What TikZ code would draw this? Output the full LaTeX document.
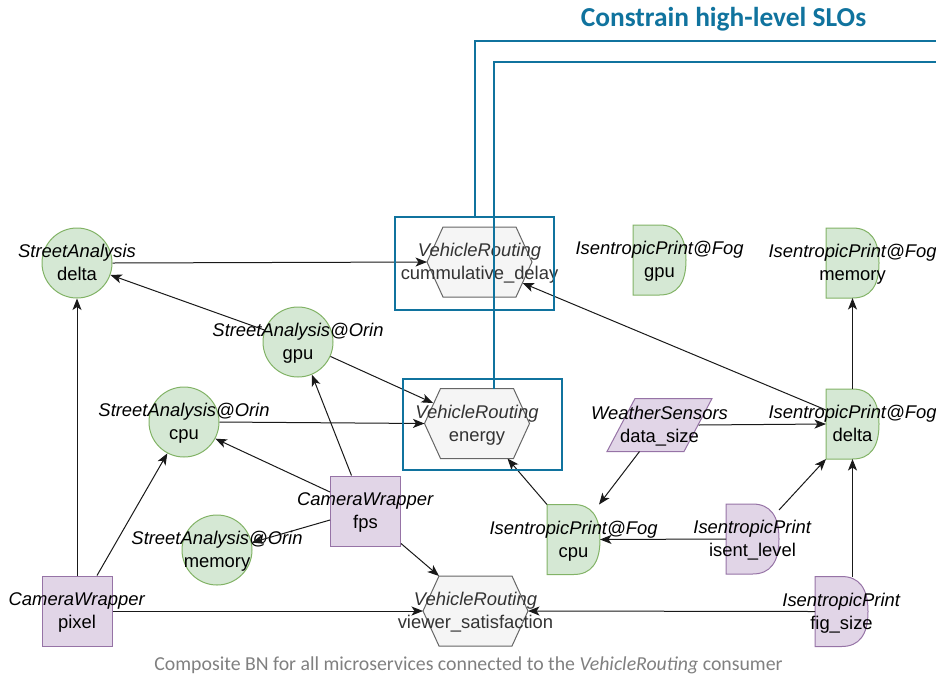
\documentclass[tikz,border=0pt]{standalone}
\usepackage{fontspec}
\setmainfont{Liberation Sans}
\newfontfamily\carlito{Carlito}
\usetikzlibrary{arrows.meta}

\definecolor{gfill}{HTML}{D5E8D4}
\definecolor{gline}{HTML}{82B366}
\definecolor{pfill}{HTML}{E1D5E7}
\definecolor{pline}{HTML}{9673A6}
\definecolor{hfill}{HTML}{F5F5F5}
\definecolor{hline}{HTML}{666666}
\definecolor{htext}{HTML}{333333}
\definecolor{slo}{HTML}{10739E}
\definecolor{capgray}{HTML}{808080}

% fixed line box so every two-line label sits the same way
\newcommand\lstrut{\rule[-4pt]{0pt}{20.4pt}}
\newcommand\twoline[2]{\textit{#1}\lstrut\\#2\lstrut}

\tikzset{
  gcirc/.style={circle, draw=gline, fill=gfill, line width=1pt, minimum size=70pt, inner sep=0pt},
  psq/.style={rectangle, draw=pline, fill=pfill, line width=1pt, minimum size=70pt, inner sep=0pt},
  dbox/.style={rectangle, minimum width=53pt, minimum height=70pt, inner sep=0pt, outer sep=0pt},
  hbox/.style={rectangle, minimum width=105pt, minimum height=70pt, inner sep=0pt, outer sep=0pt},
  pbox/.style={rectangle, minimum width=105pt, minimum height=53pt, inner sep=0pt, outer sep=0pt},
  lbl/.style={align=center, inner sep=0pt, font=\fontsize{18.4pt}{23pt}\selectfont},
  hlbl/.style={lbl, text=htext},
  arr/.style={draw=black!90, line width=1pt, -{Stealth[length=11.5pt,width=9pt,inset=3pt]}},
  slobox/.style={draw=slo, line width=2pt, rectangle, inner sep=0pt},
  sloline/.style={draw=slo, line width=2pt},
}

% half-rounded "delay" shape: name, position, fill, stroke
\newcommand\dshape[4]{%
  \node[dbox] (#1) at (#2) {};
  \filldraw[fill=#3, draw=#4, line width=1pt] (#1.north west) -- ([xshift=-26.5pt]#1.north east)
    .. controls ([xshift=-8.83pt]#1.north east) and ([yshift=-11.67pt]#1.north east) .. (#1.east)
    .. controls ([yshift=11.67pt]#1.south east) and ([xshift=-8.83pt]#1.south east) .. ([xshift=-26.5pt]#1.south east)
    -- (#1.south west) -- cycle;}

% stretched hexagon: name, position
\newcommand\hexshape[2]{%
  \node[hbox] (#1) at (#2) {};
  \filldraw[fill=hfill, draw=hline, line width=1pt] (#1.west) -- ([xshift=16pt]#1.north west)
    -- ([xshift=-16pt]#1.north east) -- (#1.east) -- ([xshift=-16pt]#1.south east)
    -- ([xshift=16pt]#1.south west) -- cycle;}

\begin{document}
\begin{tikzpicture}[x=1pt, y=-1pt]
\useasboundingbox (0,0) rectangle (936,678);

% consumer variables
\hexshape{cd}{479.5,262}
\hexshape{en}{477,423.5}
\hexshape{vs}{475.5,611}
\node[hlbl] (cdl) at (cd) {\twoline{VehicleRouting}{cummulative\_delay}};
\node[hlbl] (enl) at (en) {\twoline{VehicleRouting}{energy}};
\node[hlbl] (vsl) at (vs) {\twoline{VehicleRouting}{viewer\_satisfaction}};

% StreetAnalysis
\node[gcirc] (sad)  at (77,263)  {};
\node[gcirc] (sgpu) at (298,342) {};
\node[gcirc] (scpu) at (184,422) {};
\node[gcirc] (smem) at (217,550) {};
\node[lbl] (sadl)  at (sad)  {\twoline{StreetAnalysis}{delta}};
\node[lbl] (sgpul) at (sgpu) {\twoline{StreetAnalysis@Orin}{gpu}};
\node[lbl] (scpul) at (scpu) {\twoline{StreetAnalysis@Orin}{cpu}};
\node[lbl] (smeml) at (smem) {\twoline{StreetAnalysis@Orin}{memory}};

% CameraWrapper
\node[psq] (fps) at (365.5,511) {};
\node[psq] (pix) at (77,611) {};
\node[lbl] (fpsl) at (fps) {\twoline{CameraWrapper}{fps}};
\node[lbl] (pixl) at (pix) {\twoline{CameraWrapper}{pixel}};

% IsentropicPrint
\dshape{fgpu}{659.5,260}{gfill}{gline}
\dshape{fmem}{852.5,263}{gfill}{gline}
\dshape{fdel}{852.5,424}{gfill}{gline}
\dshape{fcpu}{573.5,539.5}{gfill}{gline}
\dshape{isl}{752.5,539}{pfill}{pline}
\dshape{fig}{841.5,611.5}{pfill}{pline}
\node[lbl] (fgpul) at (fgpu) {\twoline{IsentropicPrint@Fog}{gpu}};
\node[lbl] (fmeml) at (fmem) {\twoline{IsentropicPrint@Fog}{memory}};
\node[lbl] (fdell) at (fdel) {\twoline{IsentropicPrint@Fog}{delta}};
\node[lbl] (fcpul) at (fcpu) {\twoline{IsentropicPrint@Fog}{cpu}};
\node[lbl] (isll)  at (isl)  {\twoline{IsentropicPrint}{isent\_level}};
\node[lbl] (figl)  at (fig)  {\twoline{IsentropicPrint}{fig\_size}};

% WeatherSensors
\node[pbox] (ws) at (659.5,425) {};
\filldraw[fill=pfill, draw=pline, line width=1pt] ([xshift=28pt]ws.north west) -- (ws.north east)
  -- ([xshift=-28pt]ws.south east) -- (ws.south west) -- cycle;
\node[lbl] (wsl) at (ws) {\twoline{WeatherSensors}{data\_size}};

% dependencies
\draw[arr] (sad.east) -- (cd.west);
\draw[arr] (sgpu) -- (sad);
\draw[arr] (sgpu.-24) -- ([shift={(-44,-20.5)}]en.center);
\draw[arr] (scpu.east) -- (en.west);
\draw[arr] ([yshift=19pt]fps.west) -- (scpu.-28);
\draw[arr] ([xshift=-14pt]fps.north) -- (sgpu.-67);
\draw[arr] ([yshift=-9pt]fps.west) -- (smem.12);
\draw[arr] ([yshift=3pt]fps.south east) -- ([xshift=16pt]vs.north west);
\draw[arr] (pix.north) -- (sad.south);
\draw[arr] ([xshift=20pt]pix.north) -- (scpu.-118);
\draw[arr] (pix.east) -- (vs.west);
\draw[arr] (fig.west) -- (vs.east);
\draw[arr] (fdel.south |- fig.north) -- (fdel.south);
\draw[arr] (fdel.north) -- (fmem.south);
\draw[arr] ([yshift=14pt]fdel.west) -- ([shift={(43,21)}]cd.center);
\draw[arr] ([xshift=39pt]ws.center) -- (fdel.west);
\draw[arr] ([xshift=-20pt]ws.south) -- ([xshift=-1pt]fcpu.north east);
\draw[arr] (fcpu.north west) -- ([xshift=-22pt]en.south east);
\draw[arr] (isl.west) -- (fcpu.east);
\draw[arr] ([yshift=-6pt]isl.north east) -- (fdel.south west);

% SLO constraints
\node[slobox, minimum width=159pt, minimum height=93pt] (b1) at (474.5,263.5) {};
\node[slobox, minimum width=159pt, minimum height=91pt] (b2) at (482.5,424.5) {};
\coordinate (o1) at (936,40.5);
\coordinate (o2) at (936,62);
\draw[sloline] ([xshift=0.5pt]b1.north) |- (o1);
\draw[sloline] ([xshift=16.5pt]en.north) |- (o2);
\node[font=\carlito\bfseries\fontsize{27.4pt}{33pt}\selectfont, text=slo, anchor=base, inner sep=0pt]
  (title) at (723.5,26) {Constrain high-level SLOs};

% caption
\node[font=\carlito\fontsize{19.8pt}{24pt}\selectfont, text=capgray, anchor=base, inner sep=0pt]
  (cap) at (468.5,670) {Composite BN for all microservices connected to the \textit{VehicleRouting} consumer};
\end{tikzpicture}
\end{document}
